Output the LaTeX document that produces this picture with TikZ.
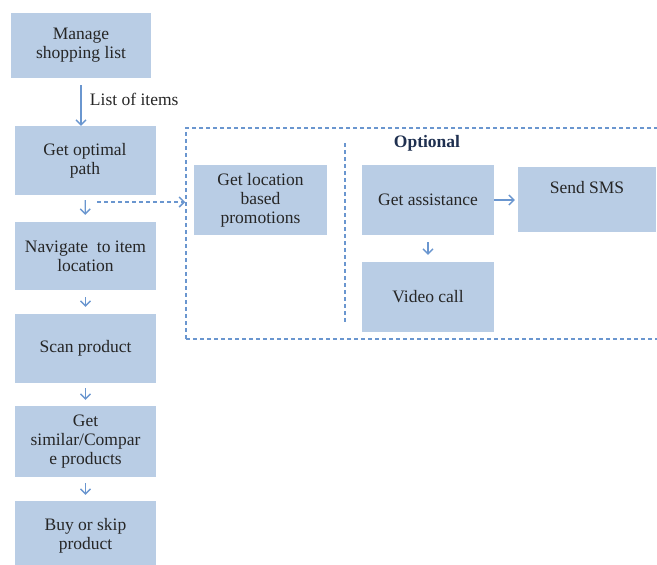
\documentclass[tikz,border=0pt]{standalone}
\usepackage{fontspec}
\setmainfont{Liberation Serif}
\usetikzlibrary{arrows.meta,positioning}
\definecolor{FlowFill}{HTML}{B9CDE5}
\definecolor{FlowBlue}{HTML}{6A96CF}
\definecolor{FlowText}{HTML}{262626}
\definecolor{FlowNavy}{HTML}{1F3050}

\begin{document}
\begin{tikzpicture}[
    x=1pt, y=-1pt,
    box/.style={fill=FlowFill, inner sep=0pt, align=center, text=FlowText,
      minimum width=141pt, minimum height=69pt, font=\fontsize{17.5}{19}\selectfont},
    arrow/.style={-{Straight Barb[length=5pt,width=10pt]}, line width=1.3pt, draw=FlowBlue},
    dotline/.style={draw=FlowBlue, line width=1.5pt, dash pattern=on 4pt off 3pt},
    frame/.style={dotline, rectangle, inner sep=0pt},
    note/.style={font=\fontsize{17.5}{19}\selectfont, text=FlowText}
  ]
  \clip (0,0) rectangle (657,565);

  % main column
  \node[box, minimum width=140pt, minimum height=65pt] (manage) at (81,45.5) {Manage\\shopping list};
  \node[box] (optimal) at (85,160.5) {Get optimal\\path};
  \node[box, minimum height=68pt] (navigate) at (85.5,256) {Navigate~~to item\\location};
  \node[box] (scan) at (85.5,348.5) {Scan product};
  \node[box, minimum height=71pt] (similar) at (85.5,441.5) {Get\\similar/Compar\\e products};
  \node[box, minimum height=70pt] (buy) at (85.5,536) {Buy or skip\\product};

  \draw[arrow, shorten <=7pt] (manage.south) -- (manage.south |- optimal.north)
    node[note, pos=0.44, right=5pt] (items) {List of items};
  \draw[arrow, shorten <=5pt, shorten >=7pt] (optimal) -- (navigate);
  \draw[arrow, shorten <=7pt, shorten >=7pt] (navigate) -- (scan);
  \draw[arrow, shorten <=5pt, shorten >=6pt] (scan) -- (similar);
  \draw[arrow, shorten <=6pt, shorten >=6pt] (similar) -- (buy);

  % optional part
  \node[frame, minimum width=484pt, minimum height=211pt] (extras) at (428,233.5) {};
  \node[box, minimum width=133pt, minimum height=70pt] (promo) at (260.5,200) {Get location\\based\\promotions};
  \node[box, minimum width=132pt, minimum height=70pt] (assist) at (428,200) {Get assistance};
  \node[box, minimum width=138pt, minimum height=65pt] (sms) at (587,199.5) {Send SMS\\\strut};
  \node[box, minimum width=132pt, minimum height=70pt] (video) at (428,297) {Video call};
  \node[note, font=\fontsize{17.5}{19}\selectfont\bfseries, text=FlowNavy] (optional) at (427,143) {Optional};

  \coordinate (septop) at (345,143);
  \coordinate (sepbot) at (345,322);
  \draw[dotline] (septop) -- (sepbot);

  \coordinate (tap) at (97,202);
  \draw[arrow, dotline] (tap) -- (tap -| extras.west);
  \draw[arrow, shorten >=3pt] (assist.east) -- (assist.east -| sms.west);
  \draw[arrow, shorten <=7pt, shorten >=7pt] (assist) -- (video);
\end{tikzpicture}
\end{document}
